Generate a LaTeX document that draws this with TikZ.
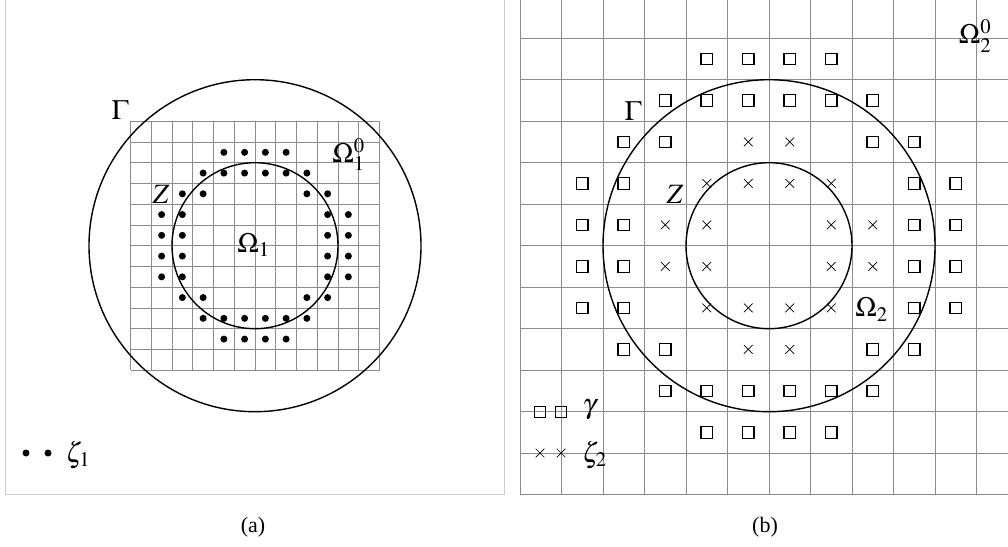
\documentclass[tikz,border=0pt]{standalone}
\usepackage{mathptmx}
\usepackage{fontspec}
\setmainfont{Liberation Serif}
\usetikzlibrary{shapes.misc}
\tikzset{
  gridline/.style={draw=black!45,line width=0.9pt},
  frameline/.style={draw=black!20,line width=1pt},
  ringline/.style={draw=black,line width=1.4pt},
  dotmark/.style={circle,fill=black,inner sep=0pt,minimum size=7pt},
  sqmark/.style={rectangle,draw=black,line width=1.1pt,inner sep=0pt,minimum size=11.5pt},
  xmark/.style={cross out,draw=black,line width=0.7pt,inner sep=0pt,minimum size=8pt},
  lab/.style={inner sep=0pt,font=\fontsize{28}{32}\selectfont},
  caption/.style={inner sep=0pt,font=\fontsize{22}{26}\selectfont}
}
\begin{document}
\begin{tikzpicture}[x=1pt,y=-1pt]
\useasboundingbox (0,0) rectangle (1008,546);
\clip (0,0) rectangle (1008,546);
% frame of panel (a)
\draw[frameline] (5,0) -- (5,494.3) -- (504.3,494.3) -- (504.3,0);
% grid of panel (a)
\foreach \k in {0,...,12} {
  \draw[gridline] ({130.5+\k*20.75},121.2) -- ({130.5+\k*20.75},370.2);
  \draw[gridline] (130.5,{121.2+\k*20.75}) -- (379.5,{121.2+\k*20.75});
}
% grid of panel (b)
\foreach \k in {0,...,12} {
  \draw[gridline] ({520+\k*41.5},-3.3) -- ({520+\k*41.5},494.7);
  \draw[gridline] (520,{-3.3+\k*41.5}) -- (1018,{-3.3+\k*41.5});
}
% markers of panel (a): dots
\foreach \sx in {1,-1} \foreach \sy in {1,-1}
  \foreach \a/\b [count=\i] in {0.5/4.5,1.5/4.5,0.5/3.5,1.5/3.5,2.5/3.5,2.5/2.5,3.5/2.5,3.5/1.5,4.5/1.5,3.5/0.5,4.5/0.5}
    \node[dotmark] (L\sx\sy-\i) at ({255+\sx*\a*20.75},{245.7+\sy*\b*20.75}) {};
% markers of panel (b): squares
\foreach \sx in {1,-1} \foreach \sy in {1,-1}
  \foreach \a/\b [count=\i] in {0.5/4.5,1.5/4.5,0.5/3.5,1.5/3.5,2.5/3.5,2.5/2.5,3.5/2.5,3.5/1.5,4.5/1.5,3.5/0.5,4.5/0.5}
    \node[sqmark] (S\sx\sy-\i) at ({769+\sx*\a*41.5},{245.7+\sy*\b*41.5}) {};
% markers of panel (b): crosses
\foreach \sx in {1,-1} \foreach \sy in {1,-1}
  \foreach \a/\b [count=\i] in {0.5/2.5,0.5/1.5,1.5/1.5,1.5/0.5,2.5/0.5}
    \node[xmark] (X\sx\sy-\i) at ({769+\sx*\a*41.5},{245.7+\sy*\b*41.5}) {};
% circles
\draw[ringline] (255,245.7) circle[radius=166];
\draw[ringline] (255,245.7) circle[radius=83];
\draw[ringline] (769,245.7) circle[radius=166];
\draw[ringline] (769,245.7) circle[radius=83];
% labels (a)
\node[lab] (GammaA) at (120,110) {$\Gamma$};
\node[lab] (ZA) at (161,194) {$Z$};
\node[lab] (OmA0) at (348.5,154.5) {$\Omega_1^0$};
\node[lab] (OmA) at (253.5,245) {$\Omega_1$};
% labels (b)
\node[lab] (GammaB) at (633,111) {$\Gamma$};
\node[lab] (ZB) at (675,194) {$Z$};
\node[lab] (OmB) at (871.5,309.5) {$\Omega_2$};
\node[lab] (OmB0) at (975,36) {$\Omega_2^0$};
% legends
\node[dotmark] (legd1) at (26,453) {};
\node[dotmark] (legd2) at (48,453) {};
\node[lab] (zeta1) at (78,455) {$\zeta_1$};
\node[sqmark] (legs1) at (540,412) {};
\node[sqmark] (legs2) at (561,412) {};
\node[lab] (gam) at (589.5,410) {$\gamma$};
\node[xmark] (legx1) at (540,453) {};
\node[xmark] (legx2) at (561,453) {};
\node[lab] (zeta2) at (594.5,455) {$\zeta_2$};
% captions
\node[caption] (capa) at (253,527) {(a)};
\node[caption] (capb) at (765,527) {(b)};
\end{tikzpicture}
\end{document}
